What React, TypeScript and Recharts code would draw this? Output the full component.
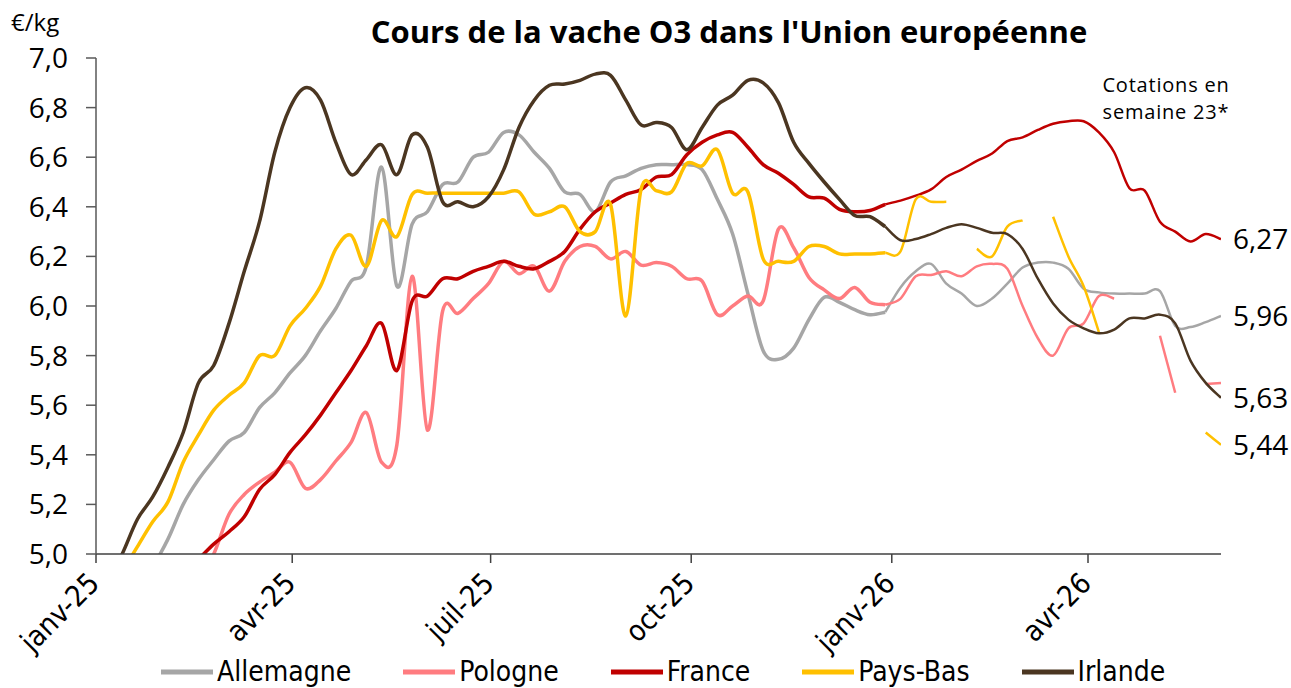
import React from 'react';
import { LineChart, Line, XAxis, YAxis, Legend, ReferenceDot } from 'recharts';

const countries = ['Allemagne', 'Pologne', 'France', 'Pays-Bas', 'Irlande'];
const colors = ['#A6A6A6', '#FF7C80', '#C00000', '#FFC000', '#4B3621'];

// lundi de chaque semaine, de S1-2025 à S23-2026, en jours depuis le 1er janvier 2025
const weekDays = Array.from({ length: 75 }, (_, i) => -2 + 7 * i);

const quarterDays = [0, 90, 181, 273, 365, 455];
const quarterLabels = ['janv-25', 'avr-25', 'juil-25', 'oct-25', 'janv-26', 'avr-26'];
const yTicks = [5, 5.2, 5.4, 5.6, 5.8, 6, 6.2, 6.4, 6.6, 6.8, 7];

// cotations hebdo, €/kg
const allemagne = [
  4.74, 4.78, 4.82, 4.87, 4.95, 5.06, 5.2, 5.3, 5.38, 5.455, 5.49, 5.59, 5.65, 5.73, 5.8,
  5.9, 5.99, 6.1, 6.16, 6.56, 6.08, 6.33, 6.38, 6.49, 6.5, 6.6, 6.62, 6.7, 6.69, 6.62,
  6.555, 6.46, 6.45, 6.38, 6.5, 6.525, 6.555, 6.57, 6.57, 6.57, 6.55, 6.43, 6.29, 6.05, 5.82,
  5.785, 5.83, 5.945, 6.035, 6.015, 5.985, 5.965, 5.975, 6.075, 6.14, 6.17, 6.09, 6.05, 6.0,
  6.03, 6.09, 6.155, 6.175, 6.175, 6.15, 6.07, 6.055, 6.05, 6.05, 6.05, 6.06, 5.92, 5.915,
  5.935, 5.96,
];
const pologne = [
  4.6, 4.65, 4.7, 4.74, 4.78, 4.82, 4.86, 4.9, 5.0, 5.16, 5.24, 5.29, 5.33, 5.37, 5.265,
  5.3, 5.375, 5.45, 5.57, 5.37, 5.44, 6.12, 5.5, 5.98, 5.97, 6.03, 6.09, 6.18, 6.13, 6.16,
  6.06, 6.18, 6.24, 6.24, 6.19, 6.22, 6.165, 6.175, 6.16, 6.11, 6.1, 5.965, 6.0, 6.04, 6.02,
  6.31, 6.235, 6.115, 6.065, 6.03, 6.075, 6.015, 6.005, 6.03, 6.12, 6.125, 6.14, 6.12, 6.16,
  6.17, 6.15, 6.0, 5.87, 5.8, 5.91, 5.93, 6.04, 6.03, null, null, 5.88, 5.65, null,
  5.685, 5.69,
];
const france = [
  4.7, 4.74, 4.78, 4.82, 4.86, 4.89, 4.93, 4.98, 5.04, 5.09, 5.15, 5.26, 5.32, 5.41, 5.48,
  5.56, 5.65, 5.74, 5.84, 5.93, 5.74, 6.02, 6.04, 6.11, 6.11, 6.14, 6.16, 6.18, 6.16, 6.15,
  6.18, 6.22, 6.31, 6.38, 6.415, 6.45, 6.47, 6.52, 6.53, 6.61, 6.66, 6.69, 6.7, 6.64, 6.57,
  6.535, 6.49, 6.44, 6.435, 6.39, 6.38, 6.385, 6.41, 6.425, 6.445, 6.47, 6.52, 6.55, 6.585,
  6.615, 6.665, 6.68, 6.71, 6.735, 6.745, 6.745, 6.7, 6.62, 6.475, 6.465, 6.34, 6.3, 6.26,
  6.29, 6.27,
];
const paysBas = [
  4.8, 4.85, 4.93, 5.03, 5.13, 5.21, 5.37, 5.48, 5.58, 5.64, 5.69, 5.8, 5.8, 5.92, 5.99,
  6.08, 6.23, 6.285, 6.16, 6.345, 6.28, 6.45, 6.455, 6.455, 6.455, 6.455, 6.455, 6.455, 6.46, 6.37,
  6.38, 6.4, 6.3, 6.3, 6.41, 5.96, 6.47, 6.465, 6.46, 6.575, 6.565, 6.63, 6.455, 6.46, 6.19,
  6.18, 6.18, 6.24, 6.24, 6.21, 6.21, 6.21, 6.215, 6.22, 6.43, 6.42, 6.42, null, 6.23,
  6.2, 6.32, 6.345, null, 6.36, 6.2, 6.08, 5.895, null, null, null, null, null, null,
  5.49, 5.44,
];
const irlande = [
  4.8, 4.88, 5.0, 5.14, 5.23, 5.35, 5.49, 5.69, 5.76, 5.93, 6.14, 6.34, 6.62, 6.8, 6.88,
  6.83, 6.66, 6.53, 6.59, 6.65, 6.53, 6.69, 6.64, 6.42, 6.42, 6.4, 6.44, 6.55, 6.72, 6.83,
  6.89, 6.895, 6.91, 6.935, 6.93, 6.83, 6.73, 6.74, 6.72, 6.63, 6.72, 6.81, 6.85, 6.91, 6.9,
  6.82, 6.66, 6.575, 6.5, 6.43, 6.365, 6.36, 6.32, 6.265, 6.27, 6.29, 6.315, 6.33, 6.315,
  6.295, 6.29, 6.23, 6.11, 6.01, 5.945, 5.91, 5.89, 5.905, 5.95, 5.95, 5.965, 5.93, 5.78,
  5.69, 5.63,
];

const lastQuotes = [6.27, 5.96, 5.63, 5.44];

const series = [allemagne, pologne, france, paysBas, irlande];
const SPLIT = 52; // 1re semaine 2026 : trait plus fin ensuite

const data = weekDays.map((day, i) => {
  const row: Record<string, number | null> = { day };
  countries.forEach((c, k) => {
    const v = series[k][i];
    row[c] = i <= SPLIT ? v : null;
    row[c + '_26'] = i >= SPLIT ? v : null;
  });
  return row;
});

// lissage type Excel (Catmull-Rom)
const smoothCurve = (context: any) => {
  let pts: number[][] = [];
  return {
    areaStart() {},
    areaEnd() {},
    lineStart() {
      pts = [];
    },
    point(x: number, y: number) {
      pts.push([+x, +y]);
    },
    lineEnd() {
      if (!pts.length) return;
      context.moveTo(pts[0][0], pts[0][1]);
      for (let i = 0; i < pts.length - 1; i++) {
        const p0 = pts[i - 1] || pts[i];
        const p1 = pts[i];
        const p2 = pts[i + 1];
        const p3 = pts[i + 2] || p2;
        context.bezierCurveTo(
          p1[0] + (p2[0] - p0[0]) / 6,
          p1[1] + (p2[1] - p0[1]) / 6,
          p2[0] - (p3[0] - p1[0]) / 6,
          p2[1] - (p3[1] - p1[1]) / 6,
          p2[0],
          p2[1]
        );
      }
    },
  };
};

const sans = '"Open Sans", Lato, sans-serif';
const narrow = '"DejaVu Sans Condensed", "Liberation Sans Narrow", sans-serif';

const QuarterTick = ({ x, y, payload }: any) => {
  const idx = quarterDays.indexOf(payload.value);
  return (
    <g transform={`translate(${x + 5},${y + 20})`}>
      <text textAnchor="end" transform="rotate(-45)" fontSize={29} fontFamily={narrow} fill="#000">
        {quarterLabels[idx]}
      </text>
    </g>
  );
};

const renderLegend = (props: any) => {
  const items = (props.payload || [])
    .filter((p: any) => p.type !== 'none')
    .sort((a: any, b: any) => countries.indexOf(a.value) - countries.indexOf(b.value));
  return (
    <div
      style={{
        display: 'flex',
        gap: 52,
        paddingLeft: 161,
        paddingTop: 11,
        height: 40,
        boxSizing: 'border-box',
        fontFamily: narrow,
        fontSize: 28,
        color: '#000',
      }}
    >
      {items.map((p: any) => (
        <div key={p.value} style={{ display: 'flex', alignItems: 'center', gap: 4, lineHeight: '30px' }}>
          <svg width={52} height={8}>
            <line x1={0} y1={4} x2={52} y2={4} stroke={p.color} strokeWidth={5} />
          </svg>
          <span>{p.value}</span>
        </div>
      ))}
    </div>
  );
};

const noteStyle: React.CSSProperties = {
  position: 'absolute',
  left: 1066,
  width: 200,
  textAlign: 'center',
  fontFamily: sans,
  fontSize: 20,
  letterSpacing: 0.8,
  lineHeight: '27px',
  color: '#000',
  whiteSpace: 'nowrap',
};

export default function App() {
  return (
    <div style={{ position: 'absolute', left: 0, top: 0, width: 1291, height: 688, background: '#fff' }}>
      <div
        style={{
          position: 'absolute',
          left: 329,
          width: 800,
          top: 10,
          textAlign: 'center',
          fontFamily: sans,
          fontWeight: 700,
          fontSize: 31,
          color: '#000',
        }}
      >
        Cours de la vache O3 dans l'Union européenne
      </div>
      <div style={{ position: 'absolute', left: 11, top: 5, fontFamily: sans, fontSize: 24, color: '#000' }}>€/kg</div>
      <div style={{ ...noteStyle, top: 71 }}>Cotations en</div>
      <div style={{ ...noteStyle, top: 98 }}>semaine 23*</div>
      <LineChart width={1291} height={688} data={data} margin={{ top: 58, right: 70, left: 0, bottom: 2 }}>
        <XAxis
          dataKey="day"
          type="number"
          domain={[0, 516]}
          allowDataOverflow
          ticks={quarterDays}
          tick={<QuarterTick />}
          tickSize={9}
          height={92}
          axisLine={{ stroke: '#404040', strokeWidth: 1.5 }}
          tickLine={{ stroke: '#404040', strokeWidth: 1.5 }}
        />
        <YAxis
          domain={[5, 7]}
          allowDataOverflow
          ticks={yTicks}
          width={96}
          tickSize={10}
          tickMargin={18}
          tickFormatter={(v: number) => v.toFixed(1).replace('.', ',')}
          tick={{ fontSize: 28, fontFamily: sans, fill: '#000' }}
          axisLine={{ stroke: '#595959', strokeWidth: 1.5 }}
          tickLine={{ stroke: '#595959', strokeWidth: 1.5 }}
        />
        <Legend verticalAlign="bottom" content={renderLegend} />
        {countries.map((c, k) => (
          <Line
            key={c}
            dataKey={c}
            name={c}
            type={smoothCurve as any}
            stroke={colors[k]}
            strokeWidth={3.5}
            dot={false}
            activeDot={false}
            isAnimationActive={false}
          />
        ))}
        {countries.map((c, k) => (
          <Line
            key={c + '_26'}
            dataKey={c + '_26'}
            name={c}
            legendType="none"
            type={smoothCurve as any}
            stroke={colors[k]}
            strokeWidth={2.5}
            dot={false}
            activeDot={false}
            isAnimationActive={false}
          />
        ))}
        {lastQuotes.map((v) => (
          <ReferenceDot
            key={v}
            x={516}
            y={v}
            r={0}
            ifOverflow="visible"
            label={{
              value: v.toFixed(2).replace('.', ','),
              position: 'right',
              offset: 12,
              fontSize: 28,
              fontFamily: sans,
              fill: '#000',
            }}
          />
        ))}
      </LineChart>
    </div>
  );
}
